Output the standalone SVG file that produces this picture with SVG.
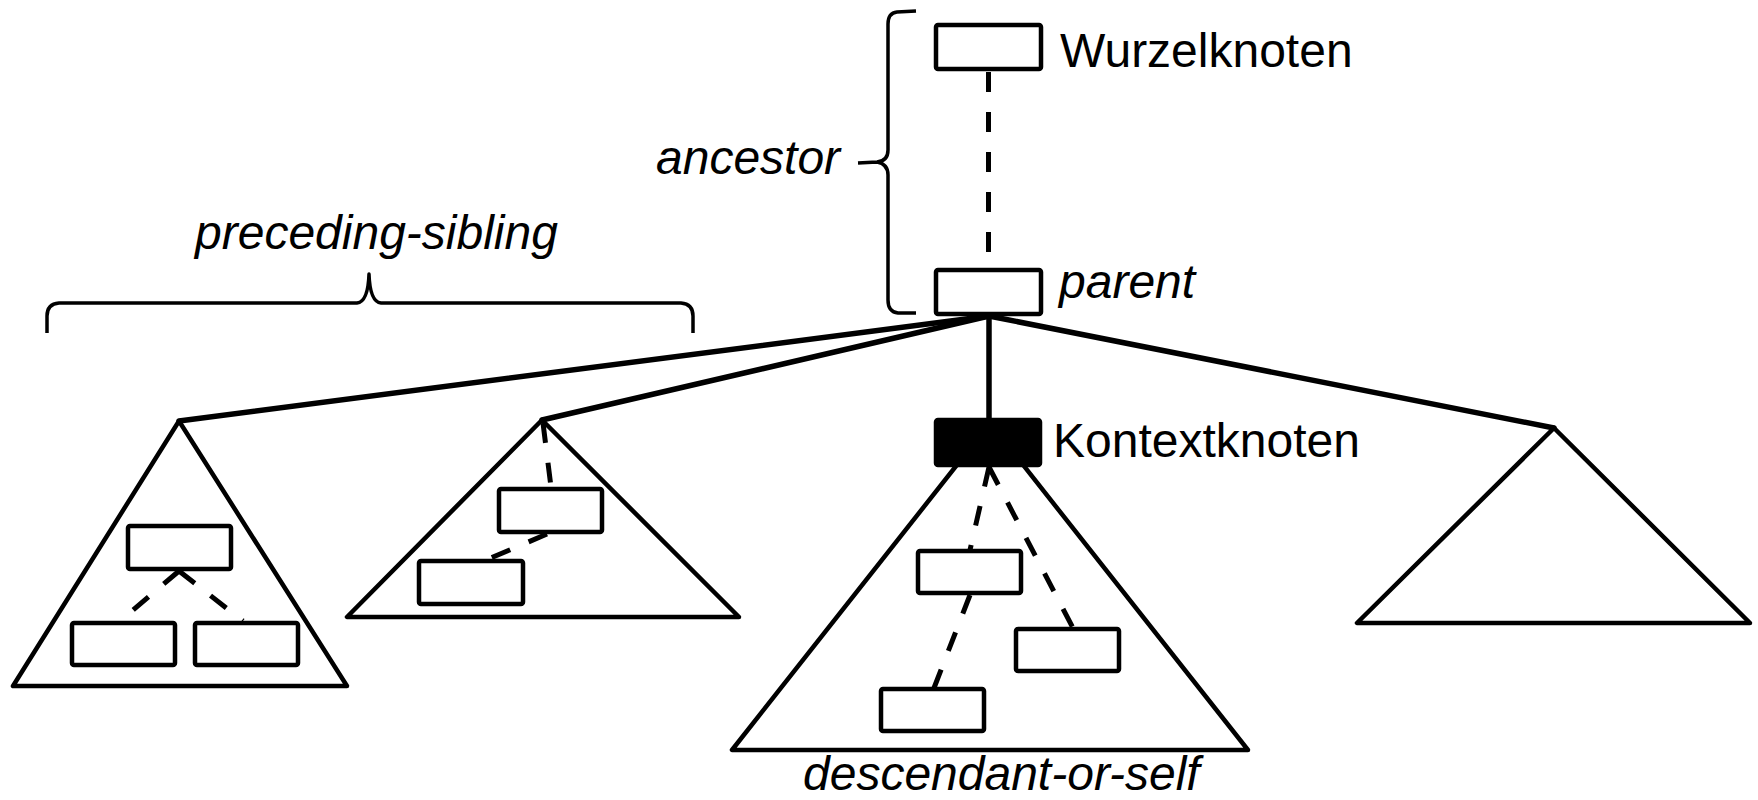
<svg xmlns="http://www.w3.org/2000/svg" width="1758" height="800" viewBox="0 0 1758 800">
  <style>
    .node { fill: #fff; stroke: #000; stroke-width: 4.5; stroke-linejoin: round; }
    .ctx { fill: #000; stroke: #000; stroke-width: 4.5; stroke-linejoin: round; }
    .tri { fill: none; stroke: #000; stroke-width: 4.5; stroke-linejoin: round; stroke-linecap: round; }
    .edge { fill: none; stroke: #000; stroke-width: 5.5; stroke-linecap: round; }
    .dash { fill: none; stroke: #000; stroke-width: 5; stroke-dasharray: 20 20; }
    .brace { fill: none; stroke: #000; stroke-width: 3.5; stroke-linecap: butt; stroke-linejoin: round; }
    .lbl { font-family: "Liberation Sans", Arial, sans-serif; font-size: 48px; fill: #000; }
    .axis { font-style: italic; }
  </style>

  <rect width="1758" height="800" fill="#fff"/>

  <!-- subtree outlines (drawn first so nodes sit on top) -->
  <g id="subtrees">
    <polygon class="tri" points="179,421 13,686 347,686"/>
    <polygon class="tri" points="542,420 347,617 739,617"/>
    <polygon class="tri" points="990,423 732,750 1248,750"/>
    <polygon class="tri" points="1554,428 1357,623 1750,623"/>
  </g>

  <!-- connectors -->
  <g id="connectors">
    <line class="dash" x1="988.5" y1="72" x2="988.5" y2="268"/>
    <line class="edge" x1="989" y1="316" x2="179" y2="421"/>
    <line class="edge" x1="989" y1="316" x2="542" y2="420"/>
    <line class="edge" x1="989" y1="316" x2="1554" y2="428"/>
    <line class="edge" x1="989" y1="316" x2="989" y2="420"/>
    <!-- inside the left subtree -->
    <line class="dash" x1="179" y1="571" x2="120" y2="621"/>
    <line class="dash" x1="179" y1="571" x2="243" y2="621"/>
    <!-- inside the second subtree -->
    <line class="dash" x1="543" y1="423" x2="551" y2="487"/>
    <line class="dash" x1="547" y1="534" x2="486" y2="560"/>
    <!-- inside the context subtree -->
    <line class="dash" x1="989" y1="467" x2="970" y2="550"/>
    <line class="dash" x1="989" y1="467" x2="1073" y2="628"/>
    <line class="dash" x1="970" y1="595" x2="934" y2="688"/>
  </g>

  <g id="root">
    <rect class="node" x="936" y="25" width="105" height="44" rx="2"/>
    <text class="lbl" x="1060" y="67">Wurzelknoten</text>
  </g>

  <g id="parent">
    <rect class="node" x="936" y="270" width="105" height="44" rx="2"/>
    <text class="lbl axis" x="1059" y="298">parent</text>
  </g>

  <g id="context">
    <rect class="ctx" x="936" y="420" width="104" height="45" rx="2"/>
    <text class="lbl" x="1053" y="457">Kontextknoten</text>
  </g>

  <g id="left-subtree-nodes">
    <rect class="node" x="128" y="526" width="103" height="43" rx="2"/>
    <rect class="node" x="72" y="623" width="103" height="42" rx="2"/>
    <rect class="node" x="195" y="623" width="103" height="42" rx="2"/>
  </g>

  <g id="second-subtree-nodes">
    <rect class="node" x="499" y="489" width="103" height="43" rx="2"/>
    <rect class="node" x="419" y="561" width="104" height="43" rx="2"/>
  </g>

  <g id="context-subtree-nodes">
    <rect class="node" x="918" y="551" width="103" height="42" rx="2"/>
    <rect class="node" x="1016" y="629" width="103" height="42" rx="2"/>
    <rect class="node" x="881" y="689" width="103" height="42" rx="2"/>
  </g>

  <!-- axis braces and labels -->
  <g id="ancestor">
    <path class="brace" d="M916,11 L897,12 Q888,13 888,24 L888,150 Q888,161 877,162 L858,163 M877,162 Q888,164 888,175 L888,300 Q888,312 898,313 L916,313"/>
    <text class="lbl axis" x="656" y="174">ancestor</text>
  </g>

  <g id="preceding-sibling">
    <path class="brace" d="M47,333 L47,316 Q47,304 59,303 L357,303 Q368,302 369,274 Q370,302 381,303 L681,303 Q693,304 693,316 L693,333"/>
    <text class="lbl axis" x="195" y="249">preceding-sibling</text>
  </g>

  <g id="descendant-or-self">
    <text class="lbl axis" x="803" y="790">descendant-or-self</text>
  </g>
</svg>
